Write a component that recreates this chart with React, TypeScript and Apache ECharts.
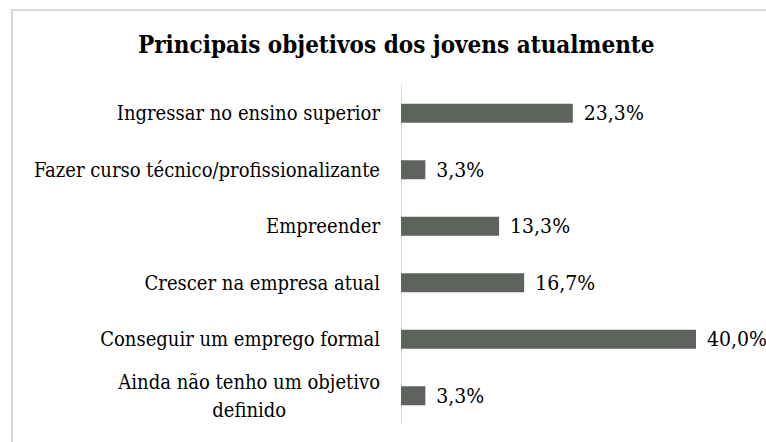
import React, { useEffect, useRef } from "react";
import * as echarts from "echarts";

const TITLE = "Principais objetivos dos jovens atualmente";
const categories = [
  "Ingressar no ensino superior",
  "Fazer curso técnico/profissionalizante",
  "Empreender",
  "Crescer na empresa atual",
  "Conseguir um emprego formal",
  "Ainda não tenho um objetivo\ndefinido",
];
const values = [23.3, 3.3, 13.3, 16.7, 40.0, 3.3];

const FONT = "DejaVu Serif Condensed, DejaVu Serif";

export default function App() {
  const ref = useRef<HTMLDivElement>(null);
  useEffect(() => {
    if (!ref.current) return;
    const chart = echarts.init(ref.current, undefined, { renderer: "svg" });
    chart.setOption({
      animation: false,
      backgroundColor: "#ffffff",
      title: {
        text: TITLE,
        left: 133,
        top: 27,
        textStyle: { fontFamily: FONT, fontSize: 24, fontWeight: "bold", color: "#000" },
      },
      graphic: [
        {
          type: "rect",
          shape: { x: 12, y: 10, width: 900, height: 600 },
          style: { fill: "none", stroke: "#d9d9d9", lineWidth: 2 },
          silent: true,
        },
      ],
      grid: { left: 401, top: 85, width: 295, height: 339, containLabel: false, outerBoundsMode: "none" },
      xAxis: {
        type: "value",
        min: 0,
        max: 40,
        show: false,
      },
      yAxis: {
        type: "category",
        data: categories,
        inverse: true,
        axisLine: { show: true, lineStyle: { color: "#d9d9d9", width: 1 } },
        axisTick: { show: false },
        axisLabel: {
          interval: 0,
          margin: 21,
          fontFamily: FONT,
          fontSize: 20,
          color: "#000",
          lineHeight: 28,
          formatter: (v: string) =>
            v.includes("\n") ? v.split("\n").map((l) => `{c|${l}}`).join("\n") : v,
          rich: {
            c: { align: "center", fontFamily: FONT, fontSize: 20, color: "#000", lineHeight: 28 },
          },
        },
      },
      series: [
        {
          type: "bar",
          data: values,
          barWidth: 19,
          itemStyle: { color: "#5e635e" },
          label: {
            show: true,
            position: "right",
            distance: 11,
            fontFamily: FONT,
            fontSize: 21,
            color: "#000",
            formatter: (p: any) => p.value.toFixed(1).replace(".", ",") + "%",
          },
        },
      ],
    });
    return () => chart.dispose();
  }, []);
  return (
    <div
      ref={ref}
      style={{ position: "fixed", left: 0, top: 0, width: 766, height: 442 }}
    />
  );
}
